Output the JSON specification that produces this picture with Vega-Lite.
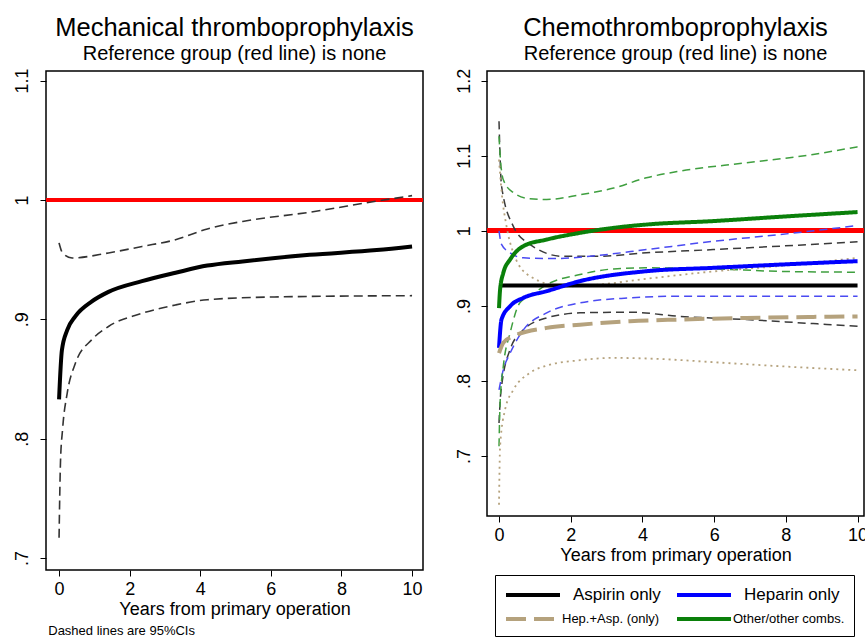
{
  "$schema": "https://vega.github.io/schema/vega-lite/v6.json",
  "background": "white",
  "padding": {"left": 12, "top": 14, "right": 0, "bottom": 0},
  "title": {"text": "Dashed lines are 95%CIs", "orient": "bottom", "anchor": "start", "fontSize": 13, "offset": -12, "dx": 36, "subtitle": ""},
  "config": {
    "font": "Liberation Sans",
    "view": {"stroke": "black", "strokeWidth": 1.5},
    "title": {"fontSize": 25.5, "subtitleFontSize": 20, "fontWeight": "normal", "color": "black", "subtitleColor": "black", "anchor": "middle", "subtitlePadding": 3, "offset": 4},
    "axis": {"domain": false, "grid": false, "tickColor": "black", "tickSize": 6, "tickWidth": 1, "labelFontSize": 18, "labelColor": "black", "titleFontSize": 18, "titleFontWeight": "normal", "titleColor": "black", "labelPadding": 4, "titlePadding": 2}
  },
  "datasets": {
    "left": [
      {"s": "est", "t": 0, "v": 0.833}, {"s": "est", "t": 0.08, "v": 0.874}, {"s": "est", "t": 0.23, "v": 0.891}, {"s": "est", "t": 0.46, "v": 0.9025}, {"s": "est", "t": 0.93, "v": 0.915}, {"s": "est", "t": 1.4, "v": 0.923}, {"s": "est", "t": 2.35, "v": 0.932}, {"s": "est", "t": 3.3, "v": 0.939}, {"s": "est", "t": 4.2, "v": 0.945}, {"s": "est", "t": 5.2, "v": 0.9485}, {"s": "est", "t": 7.1, "v": 0.954}, {"s": "est", "t": 9, "v": 0.958}, {"s": "est", "t": 10, "v": 0.961},
      {"s": "hi", "t": 0, "v": 0.964}, {"s": "hi", "t": 0.1, "v": 0.9556}, {"s": "hi", "t": 0.37, "v": 0.9514}, {"s": "hi", "t": 1.4, "v": 0.9556}, {"s": "hi", "t": 2.35, "v": 0.961}, {"s": "hi", "t": 3.3, "v": 0.9667}, {"s": "hi", "t": 4.2, "v": 0.9757}, {"s": "hi", "t": 5.2, "v": 0.982}, {"s": "hi", "t": 7.1, "v": 0.9897}, {"s": "hi", "t": 9, "v": 0.999}, {"s": "hi", "t": 10, "v": 1.0036},
      {"s": "lo", "t": 0, "v": 0.717}, {"s": "lo", "t": 0.04, "v": 0.78}, {"s": "lo", "t": 0.1, "v": 0.808}, {"s": "lo", "t": 0.23, "v": 0.838}, {"s": "lo", "t": 0.46, "v": 0.863}, {"s": "lo", "t": 0.93, "v": 0.883}, {"s": "lo", "t": 1.4, "v": 0.894}, {"s": "lo", "t": 2.35, "v": 0.905}, {"s": "lo", "t": 3.3, "v": 0.912}, {"s": "lo", "t": 4.2, "v": 0.9164}, {"s": "lo", "t": 6.1, "v": 0.9187}, {"s": "lo", "t": 10, "v": 0.9198}
    ],
    "right": [
      {"g": "Aspirin only", "s": "est", "t": 0, "v": 0.927}, {"g": "Aspirin only", "s": "est", "t": 10, "v": 0.927},
      {"g": "Aspirin only", "s": "hi", "t": 0, "v": 1.146}, {"g": "Aspirin only", "s": "hi", "t": 0.07, "v": 1.06}, {"g": "Aspirin only", "s": "hi", "t": 0.4, "v": 1.006}, {"g": "Aspirin only", "s": "hi", "t": 0.86, "v": 0.982}, {"g": "Aspirin only", "s": "hi", "t": 1.79, "v": 0.966}, {"g": "Aspirin only", "s": "hi", "t": 2.72, "v": 0.966}, {"g": "Aspirin only", "s": "hi", "t": 4.11, "v": 0.9707}, {"g": "Aspirin only", "s": "hi", "t": 5.97, "v": 0.975}, {"g": "Aspirin only", "s": "hi", "t": 7.83, "v": 0.9796}, {"g": "Aspirin only", "s": "hi", "t": 10, "v": 0.9853},
      {"g": "Aspirin only", "s": "lo", "t": 0, "v": 0.744}, {"g": "Aspirin only", "s": "lo", "t": 0.05, "v": 0.784}, {"g": "Aspirin only", "s": "lo", "t": 0.31, "v": 0.842}, {"g": "Aspirin only", "s": "lo", "t": 0.68, "v": 0.868}, {"g": "Aspirin only", "s": "lo", "t": 1.33, "v": 0.884}, {"g": "Aspirin only", "s": "lo", "t": 2.26, "v": 0.8907}, {"g": "Aspirin only", "s": "lo", "t": 3.65, "v": 0.8916}, {"g": "Aspirin only", "s": "lo", "t": 5.04, "v": 0.886}, {"g": "Aspirin only", "s": "lo", "t": 6.9, "v": 0.8818}, {"g": "Aspirin only", "s": "lo", "t": 8.76, "v": 0.8764}, {"g": "Aspirin only", "s": "lo", "t": 10, "v": 0.873},
      {"g": "Heparin only", "s": "est", "t": 0, "v": 0.844}, {"g": "Heparin only", "s": "est", "t": 0.07, "v": 0.882}, {"g": "Heparin only", "s": "est", "t": 0.31, "v": 0.8996}, {"g": "Heparin only", "s": "est", "t": 0.68, "v": 0.9107}, {"g": "Heparin only", "s": "est", "t": 1.33, "v": 0.9196}, {"g": "Heparin only", "s": "est", "t": 2.26, "v": 0.933}, {"g": "Heparin only", "s": "est", "t": 4.11, "v": 0.9462}, {"g": "Heparin only", "s": "est", "t": 5.97, "v": 0.9507}, {"g": "Heparin only", "s": "est", "t": 7.83, "v": 0.955}, {"g": "Heparin only", "s": "est", "t": 10, "v": 0.9596},
      {"g": "Heparin only", "s": "hi", "t": 0, "v": 1.0}, {"g": "Heparin only", "s": "hi", "t": 0.07, "v": 0.982}, {"g": "Heparin only", "s": "hi", "t": 0.31, "v": 0.9707}, {"g": "Heparin only", "s": "hi", "t": 0.68, "v": 0.964}, {"g": "Heparin only", "s": "hi", "t": 1.5, "v": 0.963}, {"g": "Heparin only", "s": "hi", "t": 2.72, "v": 0.967}, {"g": "Heparin only", "s": "hi", "t": 4.11, "v": 0.975}, {"g": "Heparin only", "s": "hi", "t": 5.97, "v": 0.986}, {"g": "Heparin only", "s": "hi", "t": 7.83, "v": 0.995}, {"g": "Heparin only", "s": "hi", "t": 10, "v": 1.007},
      {"g": "Heparin only", "s": "lo", "t": 0, "v": 0.788}, {"g": "Heparin only", "s": "lo", "t": 0.12, "v": 0.815}, {"g": "Heparin only", "s": "lo", "t": 0.31, "v": 0.837}, {"g": "Heparin only", "s": "lo", "t": 0.68, "v": 0.868}, {"g": "Heparin only", "s": "lo", "t": 1.33, "v": 0.8907}, {"g": "Heparin only", "s": "lo", "t": 2.26, "v": 0.904}, {"g": "Heparin only", "s": "lo", "t": 3.65, "v": 0.9107}, {"g": "Heparin only", "s": "lo", "t": 5.04, "v": 0.913}, {"g": "Heparin only", "s": "lo", "t": 10, "v": 0.913},
      {"g": "Hep.+Asp. (only)", "s": "est", "t": 0, "v": 0.837}, {"g": "Hep.+Asp. (only)", "s": "est", "t": 0.12, "v": 0.851}, {"g": "Hep.+Asp. (only)", "s": "est", "t": 0.4, "v": 0.8596}, {"g": "Hep.+Asp. (only)", "s": "est", "t": 1.33, "v": 0.8707}, {"g": "Hep.+Asp. (only)", "s": "est", "t": 2.26, "v": 0.875}, {"g": "Hep.+Asp. (only)", "s": "est", "t": 3.65, "v": 0.8796}, {"g": "Hep.+Asp. (only)", "s": "est", "t": 5.04, "v": 0.8818}, {"g": "Hep.+Asp. (only)", "s": "est", "t": 6.9, "v": 0.884}, {"g": "Hep.+Asp. (only)", "s": "est", "t": 8.76, "v": 0.8853}, {"g": "Hep.+Asp. (only)", "s": "est", "t": 10, "v": 0.886},
      {"g": "Hep.+Asp. (only)", "s": "hi", "t": 0, "v": 1.095}, {"g": "Hep.+Asp. (only)", "s": "hi", "t": 0.075, "v": 1.051}, {"g": "Hep.+Asp. (only)", "s": "hi", "t": 0.21, "v": 1.006}, {"g": "Hep.+Asp. (only)", "s": "hi", "t": 0.4, "v": 0.9707}, {"g": "Hep.+Asp. (only)", "s": "hi", "t": 0.86, "v": 0.9396}, {"g": "Hep.+Asp. (only)", "s": "hi", "t": 1.79, "v": 0.926}, {"g": "Hep.+Asp. (only)", "s": "hi", "t": 2.7, "v": 0.928}, {"g": "Hep.+Asp. (only)", "s": "hi", "t": 4.1, "v": 0.936}, {"g": "Hep.+Asp. (only)", "s": "hi", "t": 6, "v": 0.946}, {"g": "Hep.+Asp. (only)", "s": "hi", "t": 7.8, "v": 0.953}, {"g": "Hep.+Asp. (only)", "s": "hi", "t": 10, "v": 0.964},
      {"g": "Hep.+Asp. (only)", "s": "lo", "t": 0, "v": 0.635}, {"g": "Hep.+Asp. (only)", "s": "lo", "t": 0.03, "v": 0.713}, {"g": "Hep.+Asp. (only)", "s": "lo", "t": 0.17, "v": 0.762}, {"g": "Hep.+Asp. (only)", "s": "lo", "t": 0.4, "v": 0.788}, {"g": "Hep.+Asp. (only)", "s": "lo", "t": 0.86, "v": 0.8107}, {"g": "Hep.+Asp. (only)", "s": "lo", "t": 1.33, "v": 0.8204}, {"g": "Hep.+Asp. (only)", "s": "lo", "t": 2.26, "v": 0.8276}, {"g": "Hep.+Asp. (only)", "s": "lo", "t": 3.2, "v": 0.8307}, {"g": "Hep.+Asp. (only)", "s": "lo", "t": 4.58, "v": 0.829}, {"g": "Hep.+Asp. (only)", "s": "lo", "t": 5.97, "v": 0.825}, {"g": "Hep.+Asp. (only)", "s": "lo", "t": 7.83, "v": 0.8196}, {"g": "Hep.+Asp. (only)", "s": "lo", "t": 10, "v": 0.8142},
      {"g": "Other/other combs.", "s": "est", "t": 0, "v": 0.897}, {"g": "Other/other combs.", "s": "est", "t": 0.03, "v": 0.9218}, {"g": "Other/other combs.", "s": "est", "t": 0.12, "v": 0.944}, {"g": "Other/other combs.", "s": "est", "t": 0.31, "v": 0.9618}, {"g": "Other/other combs.", "s": "est", "t": 0.68, "v": 0.9796}, {"g": "Other/other combs.", "s": "est", "t": 1.33, "v": 0.9884}, {"g": "Other/other combs.", "s": "est", "t": 2.26, "v": 0.9973}, {"g": "Other/other combs.", "s": "est", "t": 3.2, "v": 1.004}, {"g": "Other/other combs.", "s": "est", "t": 4.11, "v": 1.0084}, {"g": "Other/other combs.", "s": "est", "t": 5.97, "v": 1.013}, {"g": "Other/other combs.", "s": "est", "t": 7.83, "v": 1.0187}, {"g": "Other/other combs.", "s": "est", "t": 10, "v": 1.025},
      {"g": "Other/other combs.", "s": "hi", "t": 0, "v": 1.126}, {"g": "Other/other combs.", "s": "hi", "t": 0.04, "v": 1.095}, {"g": "Other/other combs.", "s": "hi", "t": 0.12, "v": 1.068}, {"g": "Other/other combs.", "s": "hi", "t": 0.4, "v": 1.051}, {"g": "Other/other combs.", "s": "hi", "t": 0.86, "v": 1.0427}, {"g": "Other/other combs.", "s": "hi", "t": 1.33, "v": 1.0418}, {"g": "Other/other combs.", "s": "hi", "t": 2.26, "v": 1.048}, {"g": "Other/other combs.", "s": "hi", "t": 3.2, "v": 1.057}, {"g": "Other/other combs.", "s": "hi", "t": 4.11, "v": 1.0707}, {"g": "Other/other combs.", "s": "hi", "t": 5.04, "v": 1.0796}, {"g": "Other/other combs.", "s": "hi", "t": 6.9, "v": 1.0907}, {"g": "Other/other combs.", "s": "hi", "t": 8.76, "v": 1.1018}, {"g": "Other/other combs.", "s": "hi", "t": 10, "v": 1.112},
      {"g": "Other/other combs.", "s": "lo", "t": 0, "v": 0.713}, {"g": "Other/other combs.", "s": "lo", "t": 0.03, "v": 0.7707}, {"g": "Other/other combs.", "s": "lo", "t": 0.12, "v": 0.8196}, {"g": "Other/other combs.", "s": "lo", "t": 0.31, "v": 0.864}, {"g": "Other/other combs.", "s": "lo", "t": 0.58, "v": 0.904}, {"g": "Other/other combs.", "s": "lo", "t": 0.86, "v": 0.913}, {"g": "Other/other combs.", "s": "lo", "t": 1.33, "v": 0.9284}, {"g": "Other/other combs.", "s": "lo", "t": 2.26, "v": 0.9418}, {"g": "Other/other combs.", "s": "lo", "t": 3.2, "v": 0.9493}, {"g": "Other/other combs.", "s": "lo", "t": 4.11, "v": 0.9507}, {"g": "Other/other combs.", "s": "lo", "t": 5.97, "v": 0.9493}, {"g": "Other/other combs.", "s": "lo", "t": 7.83, "v": 0.946}, {"g": "Other/other combs.", "s": "lo", "t": 10, "v": 0.9449}
    ]
  },
  "hconcat": [
    {
      "width": 377,
      "height": 499,
      "title": {"text": "Mechanical thromboprophylaxis", "subtitle": "Reference group (red line) is none"},
      "data": {"name": "left"},
      "encoding": {
        "x": {"field": "t", "type": "quantitative", "scale": {"domain": [-0.37, 10.31], "nice": false, "zero": false}, "axis": {"values": [0, 2, 4, 6, 8, 10], "title": "Years from primary operation"}},
        "y": {"field": "v", "type": "quantitative", "scale": {"domain": [0.69, 1.108], "nice": false, "zero": false}, "axis": {"values": [0.7, 0.8, 0.9, 1, 1.1], "title": null, "labelPadding": 9, "labelAngle": -90, "labelAlign": "center", "labelBaseline": "bottom", "labelExpr": "datum.value < 1 ? substring(format(datum.value, '.1f'), 1) : format(datum.value, '~g')"}}
      },
      "layer": [
        {"mark": {"type": "rule", "color": "#ff0000", "strokeWidth": 4}, "encoding": {"x": null, "y": {"datum": 1}}},
        {"transform": [{"filter": "datum.s != 'est'"}], "mark": {"type": "line", "color": "#333333", "strokeWidth": 1.6, "strokeDash": [9, 5], "interpolate": "monotone"}, "encoding": {"detail": {"field": "s"}}},
        {"transform": [{"filter": "datum.s == 'est'"}], "mark": {"type": "line", "color": "black", "strokeWidth": 4, "interpolate": "monotone"}}
      ]
    },
    {
      "width": 377,
      "height": 445,
      "title": {"text": "Chemothromboprophylaxis", "subtitle": "Reference group (red line) is none"},
      "data": {"name": "right"},
      "encoding": {
        "x": {"field": "t", "type": "quantitative", "scale": {"domain": [-0.335, 10.18], "nice": false, "zero": false}, "axis": {"values": [0, 2, 4, 6, 8, 10], "title": "Years from primary operation"}},
        "y": {"field": "v", "type": "quantitative", "scale": {"domain": [0.62, 1.213], "nice": false, "zero": false}, "axis": {"values": [0.7, 0.8, 0.9, 1, 1.1, 1.2], "title": null, "labelPadding": 8, "labelAngle": -90, "labelAlign": "center", "labelBaseline": "bottom", "labelExpr": "datum.value < 1 ? substring(format(datum.value, '.1f'), 1) : format(datum.value, '~g')"}}
      },
      "layer": [
        {"mark": {"type": "rule", "color": "#ff0000", "strokeWidth": 4}, "encoding": {"x": null, "y": {"datum": 1}}},
        {"transform": [{"filter": "datum.s != 'est' && datum.g != 'Hep.+Asp. (only)'"}], "mark": {"type": "line", "strokeWidth": 1.5, "strokeDash": [8, 5], "interpolate": "monotone"},
          "encoding": {"stroke": {"field": "g", "type": "nominal", "scale": {"domain": ["Aspirin only", "Heparin only", "Other/other combs."], "range": ["#3a3a3a", "#4a4af2", "#3f9f3f"]}, "legend": null}, "detail": {"field": "s"}}},
        {"transform": [{"filter": "datum.s != 'est' && datum.g == 'Hep.+Asp. (only)'"}], "mark": {"type": "line", "strokeWidth": 1.8, "strokeDash": [2, 4], "color": "#b5a27d", "interpolate": "monotone"}, "encoding": {"detail": {"field": "s"}}},
        {"transform": [{"filter": "datum.s == 'est'"}], "mark": {"type": "line", "strokeWidth": 4, "interpolate": "monotone"},
          "encoding": {
            "color": {"field": "g", "type": "nominal", "scale": {"domain": ["Aspirin only", "Heparin only", "Hep.+Asp. (only)", "Other/other combs."], "range": ["#000000", "#0000ff", "#b5a27d", "#0a800a"]},
              "legend": {"title": null, "orient": "none", "legendX": 449, "legendY": 504, "direction": "horizontal", "columns": 2, "values": ["Aspirin only", "Heparin only", "Hep.+Asp. (only)", "Other/other combs."], "symbolType": "M-1,0H5", "symbolSize": 324, "symbolStrokeWidth": 4, "labelFontSize": 17, "labelColor": "black", "labelOffset": 47, "strokeColor": "black", "padding": 9, "rowPadding": 5, "columnPadding": 8,
                "encode": {"labels": {"update": {"fontSize": {"signal": "datum.value == 'Hep.+Asp. (only)' || datum.value == 'Other/other combs.' ? 13 : 17"}, "dx": {"signal": "datum.value == 'Hep.+Asp. (only)' || datum.value == 'Other/other combs.' ? -11 : 0"}}}}}},
            "strokeDash": {"field": "g", "type": "nominal", "scale": {"domain": ["Aspirin only", "Heparin only", "Hep.+Asp. (only)", "Other/other combs."], "range": [[1, 0], [1, 0], [20, 8], [1, 0]]},
              "legend": {"title": null, "orient": "none", "legendX": 449, "legendY": 504, "direction": "horizontal", "columns": 2, "values": ["Aspirin only", "Heparin only", "Hep.+Asp. (only)", "Other/other combs."], "symbolType": "M-1,0H5", "symbolSize": 324, "symbolStrokeWidth": 4, "labelFontSize": 17, "labelColor": "black", "labelOffset": 47, "strokeColor": "black", "padding": 9, "rowPadding": 5, "columnPadding": 8}}
          }
        }
      ]
    }
  ],
  "spacing": 28
}
